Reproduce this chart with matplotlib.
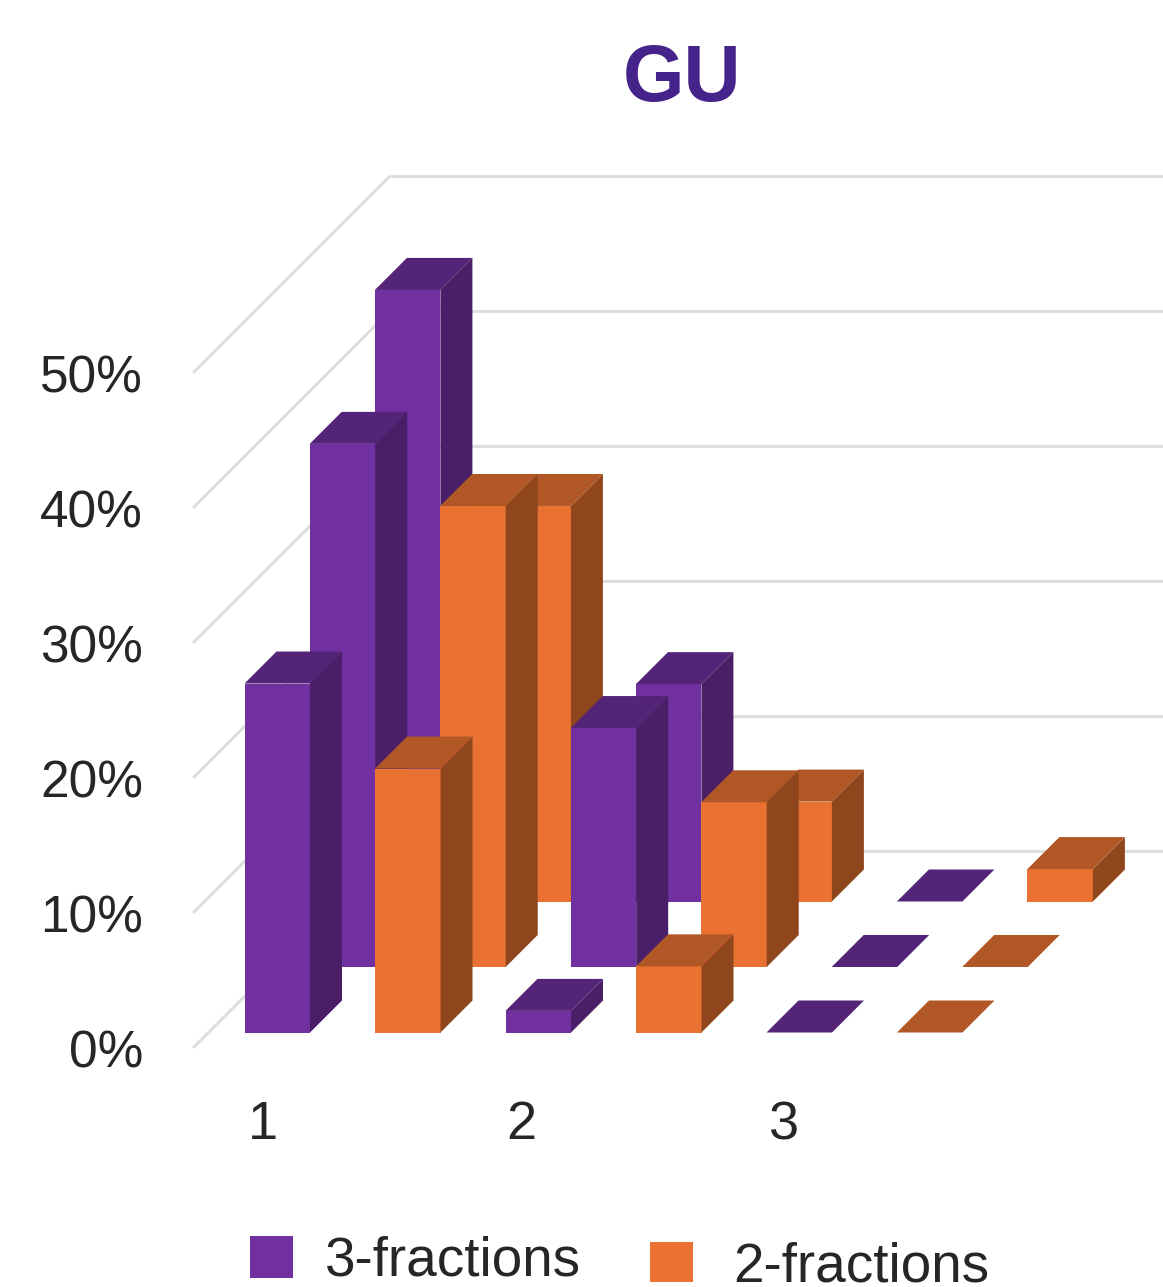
import matplotlib
matplotlib.use("Agg")
import matplotlib.pyplot as plt
from matplotlib.patches import Polygon, Rectangle

plt.rcParams['font.family'] = ['Liberation Sans', 'DejaVu Sans']

# Values, in percent. One row per depth, front row first.
categories = ["1", "2", "3"]
series_names = ["3-fractions", "2-fractions"]
y_ticks = [0, 10, 20, 30, 40, 50]
front_three = [25.85, 1.6, 0.0]
front_two = [19.55, 4.9, 0.0]
middle_three = [38.75, 17.7, 0.0]
middle_two = [34.15, 12.2, 0.0]
back_three = [45.3, 16.1, 0.0]
back_two = [29.3, 7.4, 2.4]

# Colours: front face, top face, side face.
purple = ("#7030A0", "#542478", "#4A1F68")
orange = ("#E97132", "#B15625", "#8F461D")
grid_colour = "#DEDEDE"
text_colour = "#262626"

# Oblique projection, all in image pixels.
px_per_percent = 13.5
floor_y = 1048.0
wall_x = 193.0
wall_depth = 197.0
group_step = 261.0
series_step = 130.5
row_step_x = 65.2
row_step_y = 65.5
bar_width = 65.5
bar_depth = 32.0
first_x = 244.5
first_base = 1032.5

figure, axes = plt.subplots(figsize=(11.63, 12.87), dpi=100)
figure.subplots_adjust(0, 0, 1, 1)
axes.set_xlim(0, 1163)
axes.set_ylim(1287, 0)
axes.axis("off")


def draw_bar(group, series, row, value, colours):
    front, top, side = colours
    left = first_x + group * group_step + series * series_step + row * row_step_x
    base = first_base - row * row_step_y
    height = value * px_per_percent
    roof = base - height
    right = left + bar_width
    if height > 0:
        axes.add_patch(Rectangle((left, roof), bar_width, height, fc=front, ec="none", zorder=3))
        axes.add_patch(Polygon([(right, roof), (right + bar_depth, roof - bar_depth),
                                (right + bar_depth, base - bar_depth), (right, base)],
                               fc=side, ec="none", zorder=3))
    axes.add_patch(Polygon([(left, roof), (left + bar_depth, roof - bar_depth),
                            (right + bar_depth, roof - bar_depth), (right, roof)],
                           fc=top, ec="none", zorder=3))


# Gridlines: floor/side part and back wall part.
for tick in y_ticks:
    y = floor_y - tick * px_per_percent
    axes.plot([wall_x, wall_x + wall_depth], [y, y - wall_depth], color=grid_colour, lw=2.2,
              solid_capstyle="butt", zorder=1)
    axes.plot([wall_x + wall_depth, 1163], [y - wall_depth, y - wall_depth], color=grid_colour,
              lw=2.2, solid_capstyle="butt", zorder=1)
    axes.text(143, y + 6, f"{tick}%", ha="right", va="center", fontsize=37, color=text_colour)

# Back to front, left to right.
rows = [(back_three, back_two), (middle_three, middle_two), (front_three, front_two)]
for index, (three, two) in enumerate(rows):
    row = 2 - index
    for group in range(len(categories)):
        draw_bar(group, 0, row, three[group], purple)
        draw_bar(group, 1, row, two[group], orange)

label_x = [263, 521, 784]
for x, label in zip(label_x, categories):
    axes.text(x, 1125, label, ha="center", va="center", fontsize=39, color=text_colour)

axes.text(682, 80, "GU", ha="center", va="center", fontsize=57, fontweight="bold", color="#46238A")

# Legend
axes.add_patch(Rectangle((250, 1236), 43, 42, fc=purple[0], ec="none"))
axes.text(325, 1261, series_names[0], ha="left", va="center", fontsize=39.5, color=text_colour)
axes.add_patch(Rectangle((650, 1242), 43, 40, fc=orange[0], ec="none"))
axes.text(733, 1267, series_names[1], ha="left", va="center", fontsize=39.5, color=text_colour)

figure.savefig("out.png", dpi=100)
